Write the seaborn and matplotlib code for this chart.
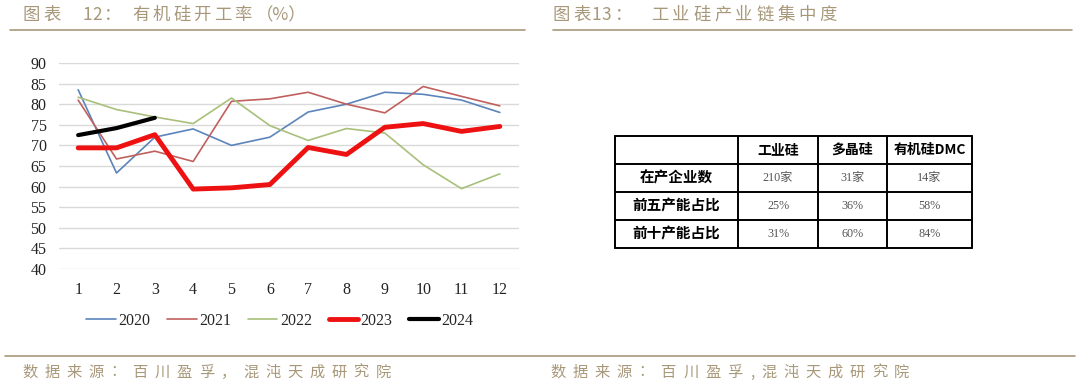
import matplotlib
matplotlib.use("Agg")
import matplotlib.pyplot as plt
import seaborn as sns

months = list(range(1, 13))
y2020 = [83.5, 63.3, 72.0, 74.0, 70.0, 72.0, 78.1, 80.0, 82.9, 82.4, 81.0, 78.0]
y2021 = [81.0, 66.7, 68.6, 66.1, 80.7, 81.3, 82.9, 80.0, 77.9, 84.3, 81.9, 79.6]
y2022 = [81.7, 78.7, 76.9, 75.3, 81.5, 74.8, 71.2, 74.1, 73.0, 65.3, 59.5, 63.1]
y2023 = [69.4, 69.4, 72.6, 59.4, 59.7, 60.5, 69.5, 67.8, 74.4, 75.3, 73.4, 74.6]
y2024 = [72.5, 74.2, 76.7]

table_cols = ["", "工业硅", "多晶硅", "有机硅DMC"]
table_rows = ["在产企业数", "前五产能占比", "前十产能占比"]
table_vals = [["210家", "31家", "14家"],
              ["25%", "36%", "58%"],
              ["31%", "60%", "84%"]]

sns.set_theme(style="white")
plt.rcParams['font.family'] = ['Liberation Serif', 'Noto Sans CJK SC', 'DejaVu Sans']
cjk = ['Noto Sans CJK SC', 'DejaVu Sans']
tan = '#a8987a'

W, H = 1080, 387
fig = plt.figure(figsize=(W / 100, H / 100), dpi=100)


def spaced(text, x0, y, pitch, size):
    # the source uses wide letter spacing, so place glyphs one at a time
    x = x0
    for ch in text:
        fig.text(x / W, 1 - y / H, ch, family=cjk, fontsize=size, color=tan,
                 va='center', ha='left')
        x += pitch if ord(ch) > 255 else pitch * 0.5


# headers and footers
spaced("图表", 23, 15, 20.5, 12.5)
spaced("12", 82, 15, 20.5, 12.5)
spaced("：", 104, 15, 20.5, 12.5)
spaced("有机硅开工率", 132, 15, 20.5, 12.5)
fig.text(256 / W, 1 - 15 / H, "（%）", family=cjk, fontsize=12.5, color=tan,
         va='center', ha='left')
spaced("图表", 553, 15, 20.5, 12.5)
spaced("13", 591, 15, 20.5, 12.5)
spaced("：", 615, 15, 20.5, 12.5)
spaced("工业硅产业链集中度", 651, 15, 21, 12.5)
fig.add_artist(plt.Line2D([10 / W, 525 / W], [1 - 30 / H] * 2, color=tan, lw=1.2))
fig.add_artist(plt.Line2D([553 / W, 1072 / W], [1 - 30 / H] * 2, color=tan, lw=1.2))
fig.add_artist(plt.Line2D([5 / W, 1075 / W], [1 - 356 / H] * 2, color=tan, lw=1.2))
spaced("数据来源：百川盈孚，混沌天成研究院", 22, 372, 22.1, 11)
spaced("数据来源：百川盈孚,混沌天成研究院", 550, 372, 22.2, 11)

# line chart
ax = fig.add_axes([59 / W, 1 - 269 / H, 460 / W, 206 / H])
series = [("2020", months, y2020, '#5b84bb', 1.2),
          ("2021", months, y2021, '#c0605e', 1.2),
          ("2022", months, y2022, '#a8c07a', 1.2),
          ("2023", months, y2023, '#ee1111', 3.5),
          ("2024", months[:3], y2024, '#000000', 3.0)]
for name, xs, ys, col, lw in series:
    sns.lineplot(x=xs, y=ys, ax=ax, color=col, linewidth=lw, label=name)

ax.set_xlim(0.5, 12.5)
ax.set_ylim(40, 90)
ax.set_yticks(range(40, 91, 5))
ax.set_xticks(months)
ax.yaxis.grid(True, color='#d9d9d9', lw=1)
ax.set_axisbelow(True)
for s in ax.spines.values():
    s.set_visible(False)
ax.tick_params(axis='both', labelsize=11.5, length=0, colors='#222222')
ax.tick_params(axis='x', pad=9)
ax.tick_params(axis='y', pad=9)
ax.legend(loc='center', bbox_to_anchor=(0.48, -0.252), ncol=5, frameon=False,
          fontsize=11.5, handlelength=1.85, handletextpad=0.15, columnspacing=1.05)

# table
tab = fig.add_axes([615 / W, 1 - 248 / H, 357 / W, 112 / H])
tab.set_axis_off()
widths = [123, 80, 69, 85]
edges = [0]
for w in widths:
    edges.append(edges[-1] + w)
tot = edges[-1]
tab.set_xlim(0, tot)
tab.set_ylim(4, 0)
for e in edges:
    tab.plot([e, e], [0, 4], color='black', lw=1.4, clip_on=False)
for r in range(5):
    tab.plot([0, tot], [r, r], color='black', lw=1.4, clip_on=False)
for j, c in enumerate(table_cols):
    tab.text((edges[j] + edges[j + 1]) / 2, 0.5, c, ha='center', va='center',
             family=cjk, fontsize=10, fontweight='bold', color='black')
for i, rn in enumerate(table_rows):
    tab.text(edges[1] / 2, i + 1.5, rn, ha='center', va='center',
             family=cjk, fontsize=10.5, fontweight='bold', color='black')
    for j, v in enumerate(table_vals[i]):
        tab.text((edges[j + 1] + edges[j + 2]) / 2, i + 1.5, v, ha='center', va='center',
                 family=['Liberation Serif', 'Noto Sans CJK SC'], fontsize=8.7, color='#555555')

fig.savefig("out.png", dpi=100)
